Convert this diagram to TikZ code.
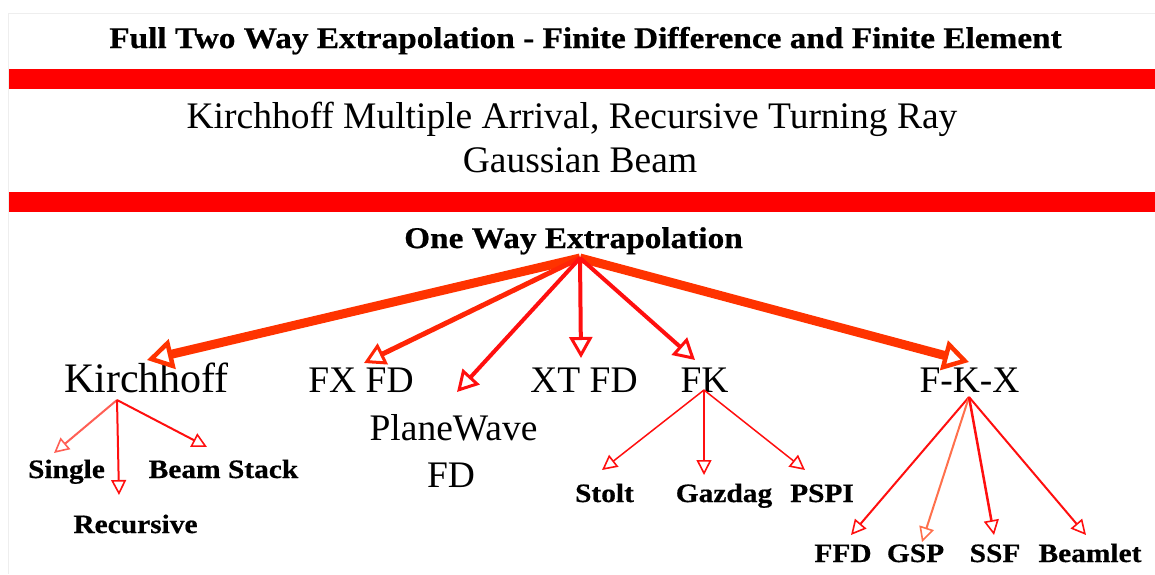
\documentclass[tikz,border=0pt]{standalone}
\usepackage{fontspec}
\setmainfont{Liberation Serif}
\newfontfamily\headfam[FakeStretch=1.11, BoldFeatures={FakeBold=0.6}]{Liberation Serif}
\usetikzlibrary{arrows.meta}
\definecolor{barred}{RGB}{255,0,0}
\definecolor{hotorange}{RGB}{255,51,0}
\definecolor{linkred}{RGB}{255,15,15}
\definecolor{softred}{RGB}{255,95,85}
\definecolor{framegray}{RGB}{238,238,238}

\begin{document}
\begin{tikzpicture}[x=1pt,y=-1pt,
  big/.style={anchor=base, inner sep=0pt, font=\fontsize{37.5}{42}\selectfont},
  head/.style={anchor=base, inner sep=0pt, font=\headfam\bfseries\fontsize{30}{34}\selectfont},
  leaf/.style={anchor=base, inner sep=0pt, font=\headfam\bfseries\fontsize{26.5}{30}\selectfont},
  bar/.style={fill=barred, draw=none},
  mainlink/.style={draw=hotorange, line width=9pt,
    -{Triangle[open, length=26pt, width=30pt, line width=4.5pt]}},
  midlink/.style={draw=linkred, line width=4.5pt,
    -{Triangle[open, length=21pt, width=23pt, line width=3pt]}},
  sublink/.style={draw=linkred, line width=2pt,
    -{Triangle[open, length=15pt, width=15pt, line width=1.6pt]}},
  softlink/.style={sublink, draw=softred}
]
\useasboundingbox (0,0) rectangle (1155,574);

% faint page frame
\draw[framegray, line width=1pt] (8,574) -- (8,13) -- (1155,13);

% header bands
\node[head] (twoway) at (585.5,48) {Full Two Way Extrapolation - Finite Difference and Finite Element};
\fill[bar] (9,69) rectangle (1155,89);
\node[big] (kma) at (572,128) {Kirchhoff Multiple Arrival, Recursive Turning Ray};
\node[big] (gauss) at (580,172) {Gaussian Beam};
\fill[bar] (9,192) rectangle (1155,212);

% one way extrapolation tree
\node[head] (oneway) at (573.5,248) {One Way Extrapolation};
\coordinate (hub) at (580,258);

\node[big, font=\fontsize{42}{46}\selectfont] (kirch) at (146.5,392) {Kirchhoff};
\node[big] (fxfd) at (361,392) {FX FD};
\node[big] (plane) at (453.5,440) {PlaneWave};
\node[big] (planefd) at (451,487) {FD};
\node[big] (xtfd) at (584,392) {XT FD};
\node[big] (fk) at (704.5,392) {FK};
\node[big] (fkx) at (969.5,392) {F-K-X};

\coordinate (kirch-in) at (147,360);
\coordinate (fxfd-in) at (364,363);
\coordinate (plane-in) at (457,392);
\coordinate (xtfd-in) at (581,358);
\coordinate (fk-in) at (695,360);
\coordinate (fkx-in) at (969,362);

\draw[mainlink] (hub) -- (kirch-in);
\draw[mainlink] (hub) -- (fkx-in);
\draw[midlink, draw=hotorange!60!linkred, line width=5pt] (hub) -- (fxfd-in);
\draw[midlink, line width=4pt] (hub) -- (plane-in);
\draw[midlink, line width=4pt] (hub) -- (xtfd-in);
\draw[midlink, line width=4pt] (hub) -- (fk-in);

% Kirchhoff branch
\coordinate (kirch-out) at (117,400);
\node[leaf] (single) at (66.5,478) {Single};
\node[leaf] (recur) at (135.5,533) {Recursive};
\node[leaf] (beam) at (223.5,478) {Beam Stack};
\coordinate (single-in) at (54,453);
\coordinate (recur-in) at (119,495);
\coordinate (beam-in) at (207,447);
\draw[softlink] (kirch-out) -- (single-in);
\draw[sublink] (kirch-out) -- (recur-in);
\draw[sublink] (kirch-out) -- (beam-in);

% FK branch
\coordinate (fk-out) at (704,390);
\node[leaf] (stolt) at (604.5,502) {Stolt};
\node[leaf] (gazdag) at (724,502) {Gazdag};
\node[leaf] (pspi) at (822,502) {PSPI};
\coordinate (stolt-in) at (602,470);
\coordinate (gazdag-in) at (704,475);
\coordinate (pspi-in) at (805,470);
\draw[sublink, line width=1.5pt] (fk-out) -- (stolt-in);
\draw[sublink] (fk-out) -- (gazdag-in);
\draw[sublink, line width=1.5pt] (fk-out) -- (pspi-in);

% F-K-X branch
\coordinate (fkx-out) at (969,397);
\node[leaf] (ffd) at (843,562) {FFD};
\node[leaf] (gsp) at (915.5,562) {GSP};
\node[leaf] (ssf) at (995,562) {SSF};
\node[leaf] (beamlet) at (1090,562) {Beamlet};
\coordinate (ffd-in) at (851,535);
\coordinate (gsp-in) at (922,542);
\coordinate (ssf-in) at (994,535);
\coordinate (beamlet-in) at (1086,535);
\draw[sublink] (fkx-out) -- (ffd-in);
\draw[softlink, draw=hotorange!70!white] (fkx-out) -- (gsp-in);
\draw[sublink, line width=2.5pt] (fkx-out) -- (ssf-in);
\draw[sublink] (fkx-out) -- (beamlet-in);
\end{tikzpicture}
\end{document}
